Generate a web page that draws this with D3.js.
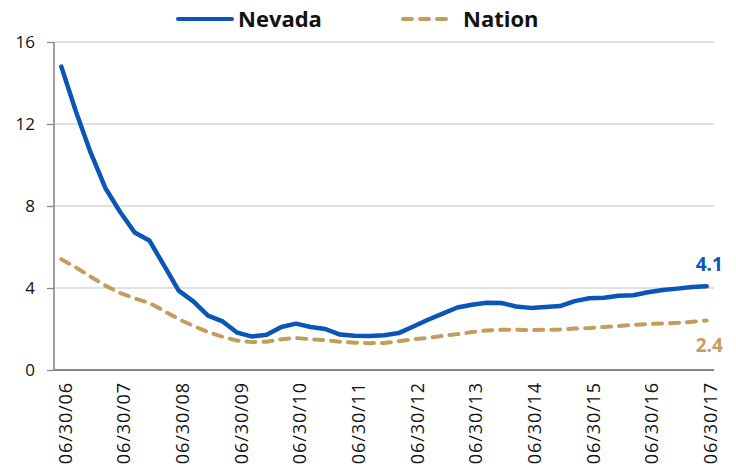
<!DOCTYPE html>
<html>
<head>
<meta charset="utf-8">
<script src="https://cdn.jsdelivr.net/npm/d3@7"></script>
<style>
  body { margin: 0; background: #fff; }
  svg text { font-family: "Open Sans", sans-serif; }
</style>
</head>
<body>
<div id="chart"></div>
<script>

// Quarter-end dates, 06/30/06 to 06/30/17
const quarters = [
  '06/30/06', '09/30/06', '12/31/06', '03/31/07',
  '06/30/07', '09/30/07', '12/31/07', '03/31/08',
  '06/30/08', '09/30/08', '12/31/08', '03/31/09',
  '06/30/09', '09/30/09', '12/31/09', '03/31/10',
  '06/30/10', '09/30/10', '12/31/10', '03/31/11',
  '06/30/11', '09/30/11', '12/31/11', '03/31/12',
  '06/30/12', '09/30/12', '12/31/12', '03/31/13',
  '06/30/13', '09/30/13', '12/31/13', '03/31/14',
  '06/30/14', '09/30/14', '12/31/14', '03/31/15',
  '06/30/15', '09/30/15', '12/31/15', '03/31/16',
  '06/30/16', '09/30/16', '12/31/16', '03/31/17',
  '06/30/17'
]

const nevada = [
  14.8, 12.6, 10.6, 8.88, 7.72, 6.71, 6.32, 5.1,
  3.87, 3.35, 2.65, 2.37, 1.82, 1.63, 1.72, 2.1,
  2.26, 2.1, 2.0, 1.73, 1.67, 1.66, 1.7, 1.8,
  2.12, 2.45, 2.75, 3.05, 3.18, 3.28, 3.27, 3.1,
  3.03, 3.07, 3.12, 3.36, 3.5, 3.52, 3.62, 3.65,
  3.79, 3.9, 3.97, 4.05, 4.08
]

const nation = [
  5.4, 5.0, 4.55, 4.12, 3.76, 3.5, 3.27, 2.88,
  2.48, 2.15, 1.85, 1.62, 1.43, 1.36, 1.38, 1.5,
  1.56, 1.5, 1.45, 1.38, 1.33, 1.31, 1.32, 1.4,
  1.5, 1.57, 1.66, 1.75, 1.85, 1.93, 1.96, 1.96,
  1.95, 1.96, 1.98, 2.02, 2.05, 2.1, 2.15, 2.2,
  2.24, 2.27, 2.3, 2.35, 2.42
]

const xTickLabels = [
  '06/30/06', '06/30/07', '06/30/08', '06/30/09', '06/30/10', '06/30/11',
  '06/30/12', '06/30/13', '06/30/14', '06/30/15', '06/30/16', '06/30/17'
]
const yTicks = [0, 4, 8, 12, 16]

const seriesNames = ['Nevada', 'Nation']
const endLabels = ['4.1', '2.4']

const BLUE = '#0a56b6'
const TAN = '#c49c5e'

// Layout

const width = 736, height = 469
const margin = { top: 42, right: 22, bottom: 99, left: 54 }
const w = width - margin.left - margin.right
const h = height - margin.top - margin.bottom

const svg = d3.select('#chart').append('svg')
  .attr('width', width)
  .attr('height', height)

const chart = svg.append('g')
  .attr('transform', 'translate(' + margin.left + ',' + margin.top + ')')

const x = d3.scalePoint().domain(quarters).range([0, w]).padding(0.5)
const y = d3.scaleLinear().domain([0, 16]).range([h, 0])

// Grid + y axis

const yAxis = g => {
  g.call(d3.axisLeft(y).tickValues(yTicks).tickSize(7).tickPadding(12))
  g.select('.domain').remove()
  g.selectAll('.tick line').attr('stroke', '#888').attr('stroke-width', 1.3)
  g.selectAll('.tick text')
    .attr('fill', '#111')
    .style('font-size', '17px')
}
chart.append('g').call(yAxis)

chart.append('g')
  .selectAll('line')
  .data(yTicks.filter(d => d > 0))
  .enter().append('line')
    .attr('x1', 0).attr('x2', w)
    .attr('y1', d => y(d)).attr('y2', d => y(d))
    .attr('stroke', '#c4c4c4')
    .attr('stroke-width', 1.2)

chart.append('line')
  .attr('x1', 0).attr('x2', 0)
  .attr('y1', y(16)).attr('y2', y(0))
  .attr('stroke', '#888').attr('stroke-width', 1.6)

// x axis

const xAxis = g => {
  g.call(d3.axisBottom(x).tickValues(xTickLabels).tickSize(0).tickPadding(0))
  g.select('.domain').attr('stroke', '#888').attr('stroke-width', 2)
    .attr('d', 'M0,0H' + w)
  g.selectAll('.tick text')
    .attr('fill', '#111')
    .attr('transform', 'rotate(-90)')
    .attr('text-anchor', 'end')
    .attr('x', -12)
    .attr('y', 0)
    .attr('dy', '0.55em')
    .style('font-size', '18px')
    .style('letter-spacing', '0.9px')
}
chart.append('g')
  .attr('transform', 'translate(0,' + h + ')')
  .call(xAxis)

// Lines

const line = d3.line()
  .x((d, i) => x(quarters[i]))
  .y(d => y(d))

chart.append('path')
  .datum(nation)
  .attr('fill', 'none')
  .attr('stroke', TAN)
  .attr('stroke-width', 4)
  .attr('stroke-linecap', 'round')
  .attr('stroke-dasharray', '9,8')
  .attr('d', line)

chart.append('path')
  .datum(nevada)
  .attr('fill', 'none')
  .attr('stroke', BLUE)
  .attr('stroke-width', 4.5)
  .attr('stroke-linejoin', 'round')
  .attr('stroke-linecap', 'round')
  .attr('d', line)

// End labels

const last = quarters.length - 1
chart.append('text')
  .attr('x', x(quarters[last]) - 11)
  .attr('y', y(nevada[last]) - 15)
  .attr('fill', BLUE)
  .style('font-size', '19px')
  .style('font-weight', 'bold')
  .text(endLabels[0])

chart.append('text')
  .attr('x', x(quarters[last]) - 11)
  .attr('y', y(nation[last]) + 32)
  .attr('fill', TAN)
  .style('font-size', '19px')
  .style('font-weight', 'bold')
  .text(endLabels[1])

// Legend

const legend = svg.append('g')
const legendItems = [
  { name: seriesNames[0], color: BLUE, dash: null, x: 178 },
  { name: seriesNames[1], color: TAN, dash: '9,8', x: 403 }
]
legendItems.forEach(d => {
  legend.append('line')
    .attr('x1', d.x).attr('x2', d.x + (d.dash ? 46 : 54))
    .attr('y1', 19).attr('y2', 19)
    .attr('stroke', d.color)
    .attr('stroke-width', 4)
    .attr('stroke-linecap', 'round')
    .attr('stroke-dasharray', d.dash)
  legend.append('text')
    .attr('x', d.x + 60)
    .attr('y', 27)
    .attr('fill', '#111')
    .style('font-size', '22px')
    .style('font-weight', 'bold')
    .text(d.name)
})

</script>
</body>
</html>
